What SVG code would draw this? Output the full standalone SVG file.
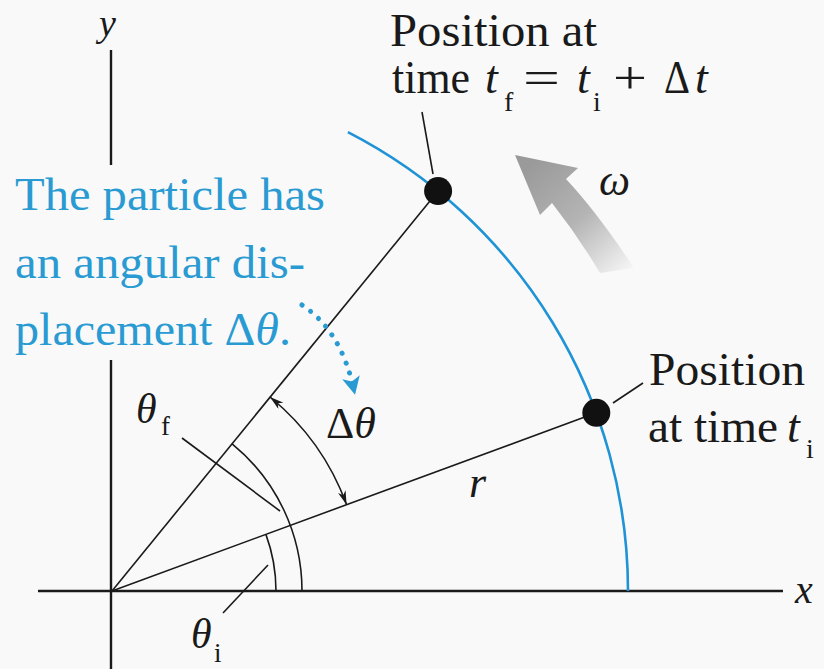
<svg xmlns="http://www.w3.org/2000/svg" width="824" height="669" viewBox="0 0 824 669">
<defs>
<style>
.t{font-family:"Liberation Serif","Times New Roman",serif;fill:#1a1a1a}
.i{font-style:italic}
.blue{fill:#2a9bd2}
.ln{stroke:#1a1a1a;fill:none;stroke-width:1.6}
.ax{stroke:#1a1a1a;fill:none;stroke-width:2.4}
</style>
<marker id="ah" viewBox="0 0 14 8" refX="14" refY="4" markerWidth="14" markerHeight="8" markerUnits="userSpaceOnUse" orient="auto-start-reverse">
<path d="M0,0 L14,4 L0,8 L4,4 Z" fill="#1a1a1a"/>
</marker>
<marker id="bh" viewBox="0 0 12 12" refX="6" refY="6" markerWidth="18" markerHeight="18" markerUnits="userSpaceOnUse" orient="auto">
<path d="M0,0 L12,6 L0,12 L3,6 Z" fill="#2a9bd2"/>
</marker>
<linearGradient id="gg" gradientUnits="userSpaceOnUse" x1="530" y1="165" x2="625" y2="275">
<stop offset="0" stop-color="#9a9a9a"/>
<stop offset="0.5" stop-color="#b4b4b4"/>
<stop offset="1" stop-color="#f6f6f6"/>
</linearGradient>
</defs>
<rect width="824" height="669" fill="#f9f9f9"/>

<g id="axes">
<line class="ax" x1="38" y1="591" x2="783" y2="591"/>
<line class="ax" x1="111" y1="50" x2="111" y2="165"/>
<line class="ax" x1="111" y1="360" x2="111" y2="669"/>
<text class="t i" x="99" y="36" font-size="38">y</text>
<text class="t i" x="795" y="603" font-size="40">x</text>
</g>

<g id="circle-path">
<path d="M628,591 A516,516 0 0 0 347.9,132.2" fill="none" stroke="#1f93d6" stroke-width="2.6"/>
</g>

<g id="connectors">
<line class="ln" x1="112" y1="591" x2="438.1" y2="191.1"/>
<line class="ln" x1="112" y1="591" x2="596.3" y2="412.8"/>
<path class="ln" d="M302,591 A190,190 0 0 0 232.1,443.8"/>
<path class="ln" d="M276,591 A164,164 0 0 0 265.9,534.4"/>
<path class="ln" d="M270,397 A250,250 0 0 1 346.6,504.7" marker-start="url(#ah)" marker-end="url(#ah)"/>
<line class="ln" x1="422" y1="112" x2="433" y2="174"/>
<line class="ln" x1="613" y1="403" x2="643" y2="383"/>
<line class="ln" x1="182" y1="438" x2="280" y2="511"/>
<line class="ln" x1="223" y1="613" x2="268" y2="565"/>
<path d="M302,305 Q340,330 353,386" fill="none" stroke="#2a9bd2" stroke-width="5" stroke-dasharray="0.1 10.5" stroke-linecap="round" marker-end="url(#bh)"/>
</g>

<g id="omega-arrow">
<path d="M515,155 L578,168 L566,179 Q597,212 634,268 L600,273 Q578,236 552,203 L540,215 Z" fill="url(#gg)"/>
<text class="t i" x="599" y="195" font-size="44">ω</text>
</g>

<g id="pos-final">
<circle cx="438.1" cy="191.1" r="14" fill="#111"/>
<text class="t" x="390" y="46" font-size="46" textLength="207" lengthAdjust="spacingAndGlyphs">Position at</text>
<text class="t" x="392" y="93" font-size="46" textLength="78" lengthAdjust="spacingAndGlyphs">time</text>
<text class="t i" x="485" y="93" font-size="46">t</text>
<text class="t" x="504" y="111" font-size="28">f</text>
<text class="t" x="523" y="93" font-size="46" textLength="37" lengthAdjust="spacingAndGlyphs">=</text>
<text class="t i" x="577" y="93" font-size="46">t</text>
<text class="t" x="593" y="111" font-size="28">i</text>
<text class="t" x="613" y="93" font-size="46" textLength="34" lengthAdjust="spacingAndGlyphs">+</text>
<text class="t" x="664" y="93" font-size="46" textLength="26" lengthAdjust="spacingAndGlyphs">Δ</text>
<text class="t i" x="695" y="93" font-size="46">t</text>
</g>

<g id="pos-initial">
<circle cx="596.3" cy="412.8" r="14" fill="#111"/>
<text class="t" x="649" y="385" font-size="46" textLength="156" lengthAdjust="spacingAndGlyphs">Position</text>
<text class="t" x="648" y="442" font-size="46" textLength="130" lengthAdjust="spacingAndGlyphs">at time</text>
<text class="t i" x="787" y="442" font-size="46">t</text>
<text class="t" x="806" y="458" font-size="28">i</text>
</g>

<g id="labels">
<text class="t" x="326" y="438" font-size="44">Δ<tspan class="i">θ</tspan></text>
<text class="t i" x="469" y="497" font-size="44">r</text>
<text class="t i" x="136" y="423" font-size="42">θ</text>
<text class="t" x="161" y="435" font-size="27">f</text>
<text class="t i" x="191" y="648" font-size="42">θ</text>
<text class="t" x="214" y="662" font-size="27">i</text>
</g>

<g id="note">
<text class="t blue" x="15" y="210" font-size="46" textLength="310" lengthAdjust="spacingAndGlyphs">The particle has</text>
<text class="t blue" x="15" y="278" font-size="46" textLength="290" lengthAdjust="spacingAndGlyphs">an angular dis-</text>
<text class="t blue" x="15" y="345" font-size="46" textLength="276" lengthAdjust="spacingAndGlyphs">placement Δ<tspan class="i">θ</tspan>.</text>
</g>
</svg>
